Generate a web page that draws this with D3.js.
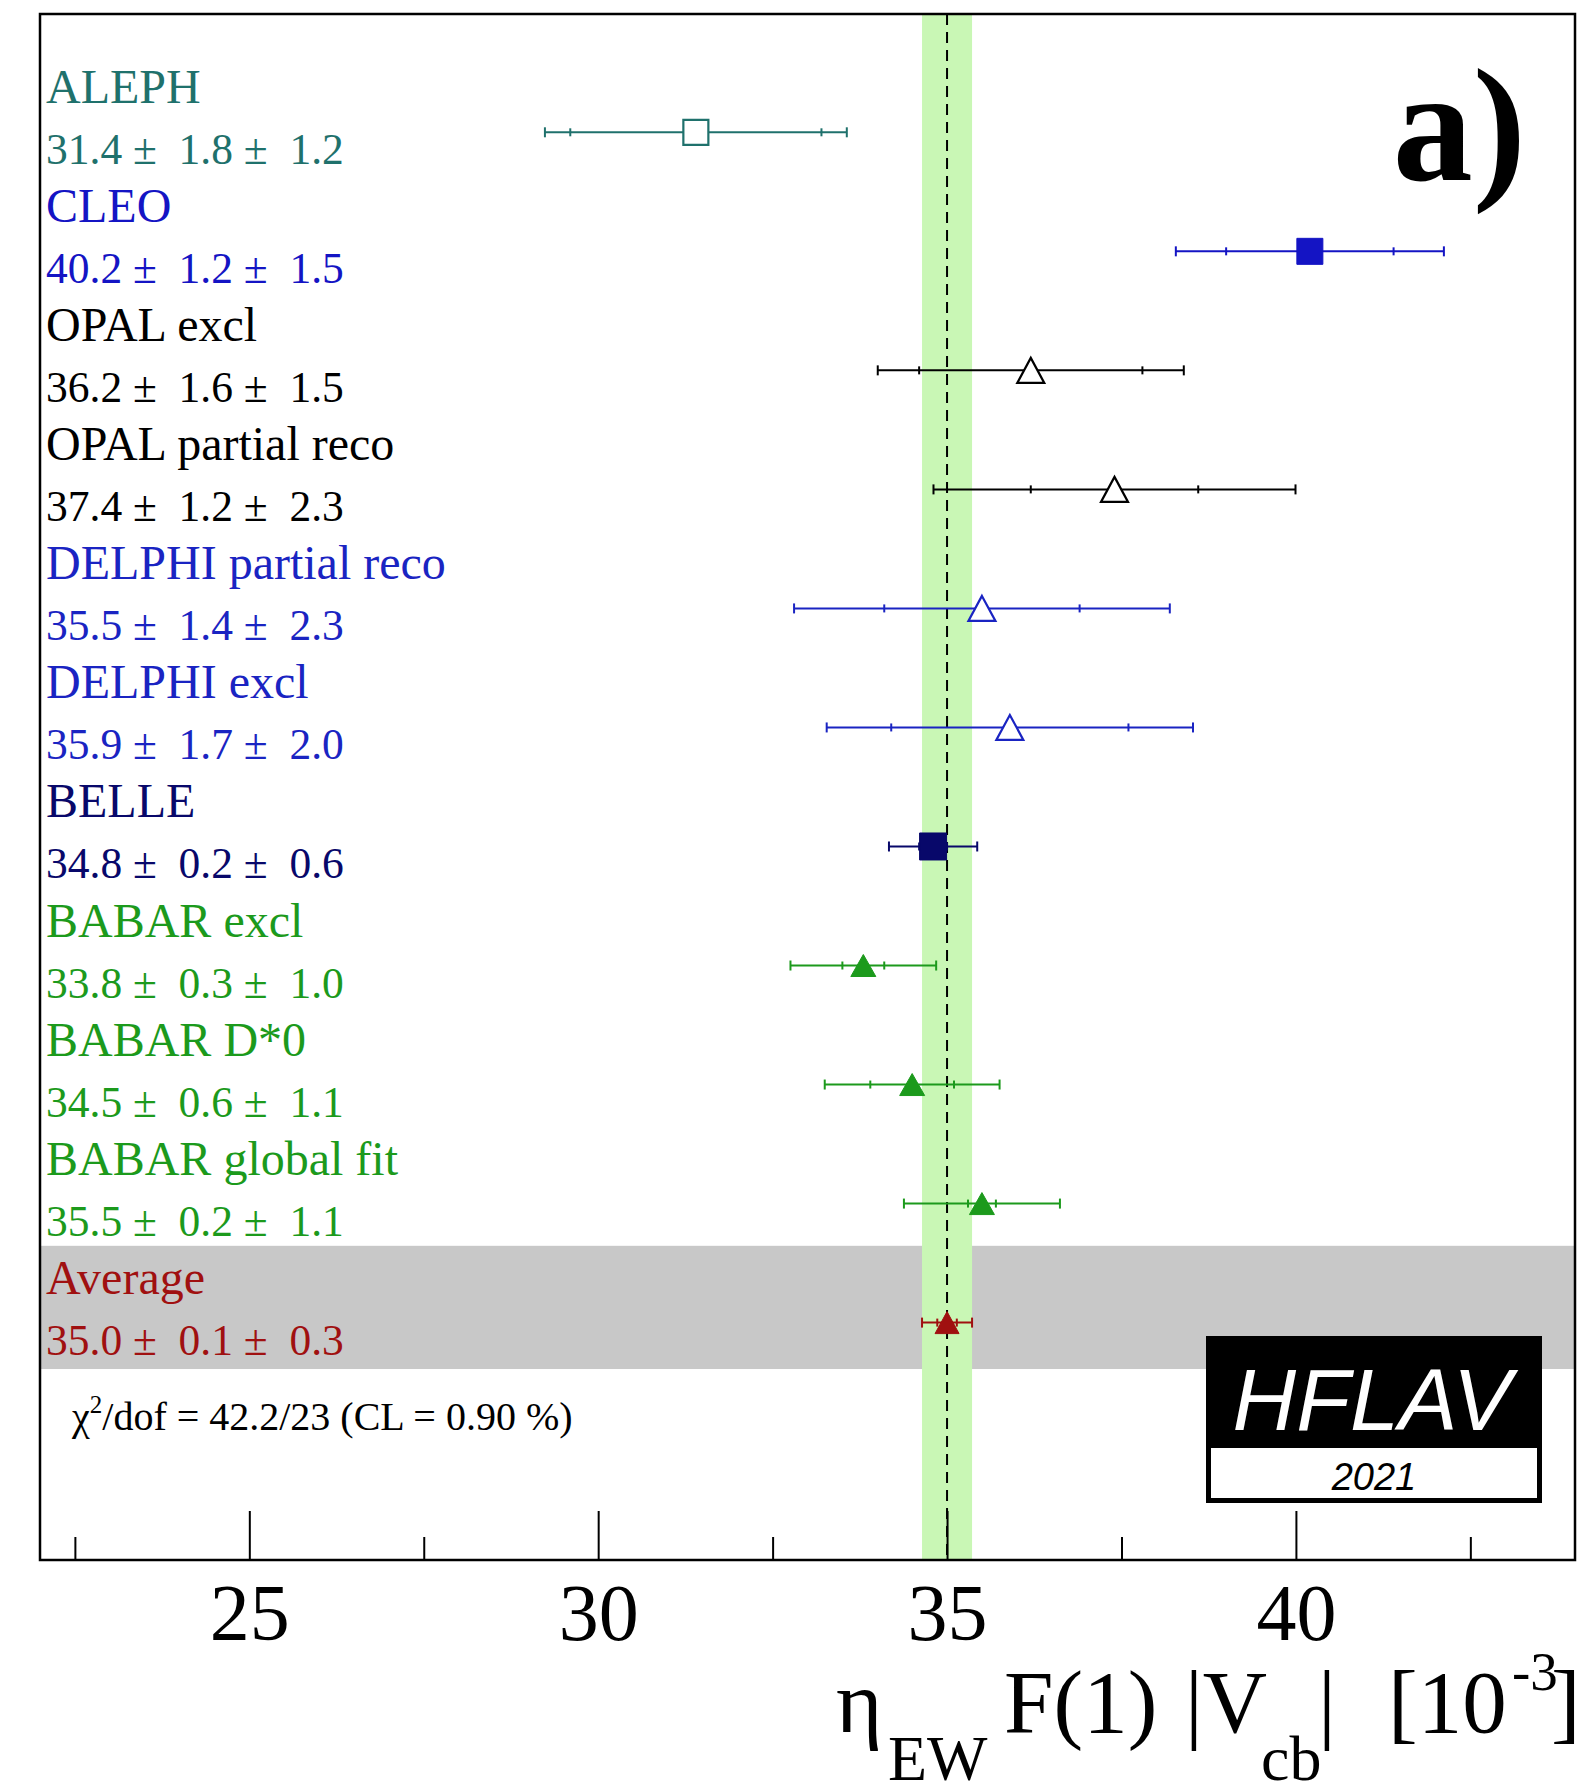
<!DOCTYPE html>
<html>
<head>
<meta charset="utf-8">
<script src="https://cdn.jsdelivr.net/npm/d3@7"></script>
<style>
  html, body { margin: 0; padding: 0; background: #fff; }
  svg { display: block; }
  text { font-family: "Liberation Serif", "Times New Roman", serif; }
</style>
</head>
<body>
<div id="viz"></div>
<script>
// ====================
// DATA
// ====================
const experiments = ['ALEPH', 'CLEO', 'OPAL excl', 'OPAL partial reco', 'DELPHI partial reco',
  'DELPHI excl', 'BELLE', 'BABAR excl', 'BABAR D*0', 'BABAR global fit', 'Average'];
const values  = [31.4, 40.2, 36.2, 37.4, 35.5, 35.9, 34.8, 33.8, 34.5, 35.5, 35.0];
const statErr = [1.8, 1.2, 1.6, 1.2, 1.4, 1.7, 0.2, 0.3, 0.6, 0.2, 0.14];
const systErr = [1.2, 1.5, 1.5, 2.3, 2.3, 2.0, 0.6, 1.0, 1.1, 1.1, 0.33];

const xDomain = [22, 44];
const majorTicks = [25, 30, 35, 40];
const minorTicks = [22.5, 27.5, 32.5, 37.5, 42.5];

const chi2Text = '/dof = 42.2/23 (CL = 0.90 %)';
const logoText = 'HFLAV';
const logoYear = '2021';
const panelLabel = 'a)';

// ====================
// SETUP
// ====================
const width = 1578;
const height = 1788;
const frame = { left: 40, top: 14, right: 1575, bottom: 1560 };

// marker style per experiment
const styleOf = {
  'ALEPH':               { color: '#1f716c', shape: 'square',   open: true,  w: 25, h: 25 },
  'CLEO':                { color: '#1414c4', shape: 'square',   open: false, w: 26, h: 26 },
  'OPAL excl':           { color: '#000000', shape: 'triangle', open: true,  w: 27, h: 25 },
  'OPAL partial reco':   { color: '#000000', shape: 'triangle', open: true,  w: 27, h: 25 },
  'DELPHI partial reco': { color: '#1a24c2', shape: 'triangle', open: true,  w: 27, h: 25 },
  'DELPHI excl':         { color: '#1a24c2', shape: 'triangle', open: true,  w: 27, h: 25 },
  'BELLE':               { color: '#08086a', shape: 'square',   open: false, w: 27, h: 27 },
  'BABAR excl':          { color: '#1c9a1c', shape: 'triangle', open: false, w: 25, h: 22 },
  'BABAR D*0':           { color: '#1c9a1c', shape: 'triangle', open: false, w: 25, h: 22 },
  'BABAR global fit':    { color: '#1c9a1c', shape: 'triangle', open: false, w: 25, h: 22 },
  'Average':             { color: '#a01010', shape: 'triangle', open: false, w: 24, h: 22 }
};

const rows = experiments.map((name, i) => ({
  name,
  value: values[i],
  stat: statErr[i],
  syst: systErr[i],
  total: Math.sqrt(statErr[i] ** 2 + systErr[i] ** 2),
  style: styleOf[name]
}));
const avg = rows[rows.length - 1];

// Scales
const x = d3.scaleLinear().domain(xDomain).range([frame.left, frame.right]);
const y = d3.scalePoint().domain(experiments).range([132.3, 1322.6]);
const step = y.step();

const markerPath = (s) => {
  const p = d3.path();
  if (s.shape === 'square') {
    p.rect(-s.w / 2, -s.h / 2, s.w, s.h);
  } else {
    p.moveTo(0, -s.h / 2);
    p.lineTo(s.w / 2, s.h / 2);
    p.lineTo(-s.w / 2, s.h / 2);
    p.closePath();
  }
  return p.toString();
};

// ====================
// DRAW
// ====================
const svg = d3.select('#viz').append('svg')
  .attr('width', width)
  .attr('height', height);

// grey band behind the average row
svg.append('rect')
  .attr('x', frame.left)
  .attr('y', y('Average') - 0.645 * step)
  .attr('width', frame.right - frame.left)
  .attr('height', 1.035 * step)
  .attr('fill', '#c8c8c8');

// green average band
svg.append('rect')
  .attr('x', x(avg.value - avg.total))
  .attr('y', frame.top)
  .attr('width', x(avg.value + avg.total) - x(avg.value - avg.total))
  .attr('height', frame.bottom - frame.top)
  .attr('fill', '#c9f7b5');

// dashed central line
svg.append('line')
  .attr('x1', x(avg.value)).attr('x2', x(avg.value))
  .attr('y1', frame.top).attr('y2', frame.bottom)
  .attr('stroke', '#000')
  .attr('stroke-width', 2)
  .attr('stroke-dasharray', '11,7');

// error bars
const bars = svg.append('g').selectAll('g')
  .data(rows)
  .join('g')
  .attr('transform', d => `translate(0,${y(d.name)})`)
  .attr('stroke', d => d.style.color)
  .attr('stroke-width', 2);

bars.append('line')
  .attr('x1', d => x(d.value - d.total))
  .attr('x2', d => x(d.value + d.total));

bars.selectAll('line.cap')
  .data(d => [d.value - d.total, d.value + d.total])
  .join('line')
  .attr('class', 'cap')
  .attr('x1', v => x(v)).attr('x2', v => x(v))
  .attr('y1', -5).attr('y2', 5);

bars.selectAll('line.stat')
  .data(d => [d.value - d.stat, d.value + d.stat])
  .join('line')
  .attr('class', 'stat')
  .attr('x1', v => x(v)).attr('x2', v => x(v))
  .attr('y1', -4).attr('y2', 4);

// markers
svg.append('g').selectAll('path')
  .data(rows)
  .join('path')
  .attr('transform', d => `translate(${x(d.value)},${y(d.name)})`)
  .attr('d', d => markerPath(d.style))
  .attr('fill', d => d.style.open ? '#fff' : d.style.color)
  .attr('stroke', d => d.style.color)
  .attr('stroke-width', d => d.style.open ? 2.2 : 1);

// labels
const labels = svg.append('g').selectAll('g')
  .data(rows)
  .join('g')
  .attr('fill', d => d.style.color);

labels.append('text')
  .attr('x', 46)
  .attr('y', d => y(d.name) - 29)
  .style('font-size', '48px')
  .text(d => d.name);

labels.append('text')
  .attr('x', 46)
  .attr('y', d => y(d.name) + 32)
  .style('font-size', '43.5px')
  .attr('xml:space', 'preserve')
  .style('white-space', 'pre')
  .text(d => `${d.value.toFixed(1)} ±  ${d.stat.toFixed(1)} ±  ${d.syst.toFixed(1)}`);

// chi2 line
const chi = svg.append('text')
  .attr('x', 72)
  .attr('y', 1430)
  .style('font-size', '40px')
  .attr('fill', '#000');
chi.append('tspan').text('χ');
chi.append('tspan').attr('dy', -17).style('font-size', '25px').text('2');
chi.append('tspan').attr('dy', 17).text(chi2Text);

// panel label
svg.append('text')
  .attr('x', 1526)
  .attr('y', 180)
  .attr('text-anchor', 'end')
  .style('font-size', '160px')
  .style('font-weight', 'bold')
  .text(panelLabel);

// HFLAV logo
const logo = svg.append('g');
logo.append('rect')
  .attr('x', 1206).attr('y', 1336)
  .attr('width', 336).attr('height', 167)
  .attr('fill', '#000');
logo.append('rect')
  .attr('x', 1211).attr('y', 1448)
  .attr('width', 326).attr('height', 50)
  .attr('fill', '#fff');
logo.append('text')
  .attr('x', 1372).attr('y', 1430)
  .attr('text-anchor', 'middle')
  .style('font-family', '"Liberation Sans", Arial, sans-serif')
  .style('font-style', 'italic')
  .style('font-size', '88px')
  .attr('fill', '#fff')
  .text(logoText);
logo.append('text')
  .attr('x', 1374).attr('y', 1490)
  .attr('text-anchor', 'middle')
  .style('font-family', '"Liberation Sans", Arial, sans-serif')
  .style('font-style', 'italic')
  .style('font-size', '38px')
  .attr('fill', '#000')
  .text(logoYear);

// ====================
// AXIS
// ====================
const majorAxis = svg.append('g')
  .attr('transform', `translate(0,${frame.bottom})`)
  .call(d3.axisBottom(x)
    .tickValues(majorTicks)
    .tickSizeInner(-49)
    .tickSizeOuter(0)
    .tickPadding(23)
    .tickFormat(d3.format('d')));

const minorAxis = svg.append('g')
  .attr('transform', `translate(0,${frame.bottom})`)
  .call(d3.axisBottom(x)
    .tickValues(minorTicks)
    .tickSizeInner(-23)
    .tickSizeOuter(0)
    .tickFormat(() => ''));

[majorAxis, minorAxis].forEach(a => {
  a.select('.domain').remove();
  a.selectAll('.tick line').attr('stroke', '#000').attr('stroke-width', 2);
});
majorAxis.selectAll('.tick text')
  .style('font-family', '"Liberation Serif", "Times New Roman", serif')
  .style('font-size', '80px')
  .attr('fill', '#000');

// axis title
const title = svg.append('text')
  .style('font-size', '89px')
  .attr('fill', '#000')
  .attr('xml:space', 'preserve')
  .style('white-space', 'pre');
title.append('tspan').attr('x', 836).attr('y', 1732).text('η');
title.append('tspan').attr('x', 888).attr('y', 1780).style('font-size', '64px').text('EW');
title.append('tspan').attr('x', 1004).attr('y', 1732).text('F(1)');
title.append('tspan').attr('x', 1185).attr('y', 1732).text('|V');
title.append('tspan').attr('x', 1261).attr('y', 1780).style('font-size', '64px').text('cb');
title.append('tspan').attr('x', 1318).attr('y', 1732).text('|');
title.append('tspan').attr('x', 1388).attr('y', 1732).text('[10');
title.append('tspan').attr('x', 1512).attr('y', 1690).style('font-size', '55px').text('-3');
title.append('tspan').attr('x', 1551).attr('y', 1732).text(']');

// frame
svg.append('rect')
  .attr('x', frame.left)
  .attr('y', frame.top)
  .attr('width', frame.right - frame.left)
  .attr('height', frame.bottom - frame.top)
  .attr('fill', 'none')
  .attr('stroke', '#000')
  .attr('stroke-width', 2.5);
</script>
</body>
</html>
